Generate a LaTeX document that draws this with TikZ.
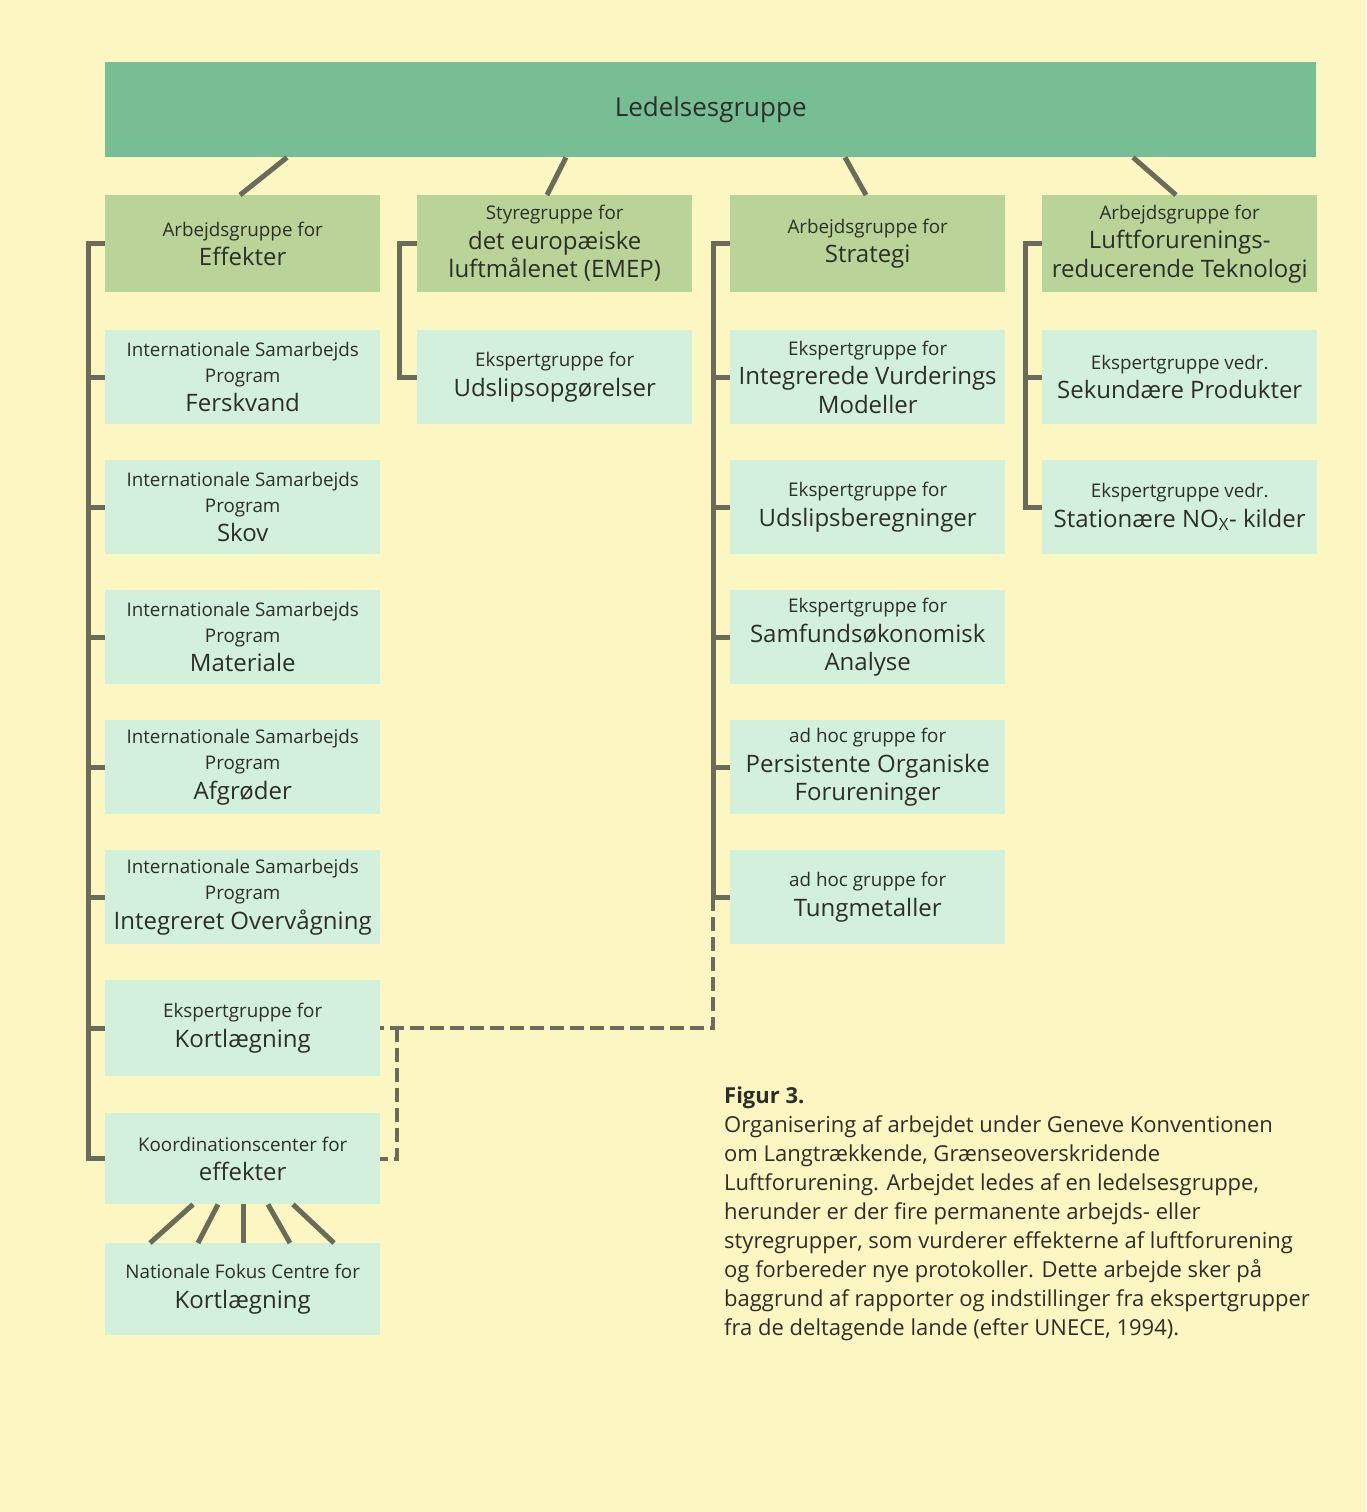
\documentclass[tikz,border=0pt]{standalone}
\usepackage{fontspec}
\setmainfont{Open Sans}
\usetikzlibrary{calc}
\definecolor{bg}{HTML}{FCF6C2}
\definecolor{topg}{HTML}{77BE95}
\definecolor{olive}{HTML}{B9D398}
\definecolor{cyanb}{HTML}{D2F0DC}
\definecolor{linec}{HTML}{6A6B58}
\definecolor{txt}{HTML}{2E2E28}
\newcommand\lgt[1]{{\fontsize{24}{28.5}\selectfont #1}}
\newcommand\nlg{\\[3.5pt]}
\newcommand\nll{\\[2.5pt]}
\begin{document}
\begin{tikzpicture}[x=1pt,y=-1pt,
  box/.style={minimum width=275pt, minimum height=94pt, inner sep=0pt, align=center, text=txt, font=\fontsize{18.8}{26}\selectfont, anchor=north west},
  lvone/.style={box, fill=olive, minimum height=97pt},
  lvtwo/.style={box, fill=cyanb},
  conn/.style={draw=linec, line width=5pt},
  dconn/.style={draw=linec, line width=4pt, dash pattern=on 14pt off 6pt}]
\fill[bg] (0,0) rectangle (1366,1512);
\node[fill=topg, minimum width=1211pt, minimum height=95pt, inner sep=0pt, anchor=north west, font=\fontsize{26}{30}\selectfont, text=txt] (top) at (105,62) {Ledelsesgruppe};
% level 1
\node[lvone] (eff) at (105,195) {Arbejdsgruppe for\nlg\lgt{Effekter}};
\node[lvone] (emep) at (417,195) {Styregruppe for\nlg\lgt{det europæiske}\nll\lgt{luftmålenet (EMEP)}};
\node[lvone] (strat) at (730,195) {Arbejdsgruppe for\nlg\lgt{Strategi}};
\node[lvone] (tek) at (1042,195) {Arbejdsgruppe for\nlg\lgt{Luftforurenings-}\nll\lgt{reducerende Teknologi}};
% column A
\node[lvtwo] (fersk) at (105,330) {Internationale Samarbejds\\Program\nlg\lgt{Ferskvand}};
\node[lvtwo] (skov) at (105,460) {Internationale Samarbejds\\Program\nlg\lgt{Skov}};
\node[lvtwo] (mat) at (105,590) {Internationale Samarbejds\\Program\nlg\lgt{Materiale}};
\node[lvtwo] (afg) at (105,720) {Internationale Samarbejds\\Program\nlg\lgt{Afgrøder}};
\node[lvtwo] (intov) at (105,850) {Internationale Samarbejds\\Program\nlg\lgt{Integreret Overvågning}};
\node[lvtwo, minimum height=96pt] (kort) at (105,980) {Ekspertgruppe for\nlg\lgt{Kortlægning}};
\node[lvtwo, minimum height=91pt] (koord) at (105,1113) {Koordinationscenter for\nlg\lgt{effekter}};
\node[lvtwo, minimum height=92pt] (nfc) at (105,1243) {Nationale Fokus Centre for\nlg\lgt{Kortlægning}};
% column B
\node[lvtwo] (udsop) at (417,330) {Ekspertgruppe for\nlg\lgt{Udslipsopgørelser}};
% column C
\node[lvtwo] (ivm) at (730,330) {Ekspertgruppe for\nlg\lgt{Integrerede Vurderings}\nll\lgt{Modeller}};
\node[lvtwo] (udsb) at (730,460) {Ekspertgruppe for\nlg\lgt{Udslipsberegninger}};
\node[lvtwo] (samf) at (730,590) {Ekspertgruppe for\nlg\lgt{Samfundsøkonomisk}\nll\lgt{Analyse}};
\node[lvtwo] (pop) at (730,720) {ad hoc gruppe for\nlg\lgt{Persistente Organiske}\nll\lgt{Forureninger}};
\node[lvtwo] (tung) at (730,850) {ad hoc gruppe for\nlg\lgt{Tungmetaller}};
% column D
\node[lvtwo] (sek) at (1042,330) {Ekspertgruppe vedr.\nlg\lgt{Sekundære Produkter}};
\node[lvtwo] (nox) at (1042,460) {Ekspertgruppe vedr.\nlg\lgt{Stationære NO\textsubscript{X}- kilder}};
% top connectors
\draw[conn] ($(top.south west)+(182,0)$) -- ($(eff.north west)+(135,0)$);
\draw[conn] ($(top.south west)+(461,0)$) -- ($(emep.north west)+(130,0)$);
\draw[conn] ($(top.south west)+(740,0)$) -- ($(strat.north west)+(136,0)$);
\draw[conn] ($(top.south west)+(1028,0)$) -- ($(tek.north west)+(134,0)$);
% brackets
\draw[conn] (eff.west) -| ($(koord.west)+(-17,0)$) -- (koord.west);
\foreach \n in {fersk,skov,mat,afg,intov,kort} \draw[conn] (\n.west) -- ++(-17,0);
\draw[conn] (emep.west) -| ($(udsop.west)+(-18,0)$) -- (udsop.west);
\draw[conn] (strat.west) -| ($(tung.west)+(-17,0)$) -- (tung.west);
\foreach \n in {ivm,udsb,samf,pop} \draw[conn] (\n.west) -- ++(-17,0);
\draw[conn] (tek.west) -| ($(nox.west)+(-17,0)$) -- (nox.west);
\draw[conn] (sek.west) -- ++(-17,0);
% dashed links
\draw[dconn] ($(tung.west)+(-17,0)$) |- (kort.east);
\draw[dconn] ($(kort.east)+(17,0)$) |- (koord.east);
% fan
\draw[conn] ($(koord.south west)+(88,0)$) -- ($(nfc.north west)+(45,0)$);
\draw[conn] ($(koord.south west)+(113,0)$) -- ($(nfc.north west)+(93,0)$);
\draw[conn] ($(koord.south west)+(138,0)$) -- ($(nfc.north west)+(138,0)$);
\draw[conn] ($(koord.south west)+(163,0)$) -- ($(nfc.north west)+(185,0)$);
\draw[conn] ($(koord.south west)+(188,0)$) -- ($(nfc.north west)+(229,0)$);
% caption
\node[anchor=north west, align=left, inner sep=0pt, text=txt, font=\fontsize{22}{29}\selectfont] (cap) at (724,1087)
{{\bfseries Figur 3.}\\
Organisering af arbejdet under Geneve Konventionen\\
om Langtrækkende, Grænseoverskridende\\
Luftforurening. Arbejdet ledes af en ledelsesgruppe,\\
herunder er der fire permanente arbejds- eller\\
styregrupper, som vurderer effekterne af luftforurening\\
og forbereder nye protokoller. Dette arbejde sker på\\
baggrund af rapporter og indstillinger fra ekspertgrupper\\
fra de deltagende lande (efter UNECE, 1994).};
\end{tikzpicture}
\end{document}
